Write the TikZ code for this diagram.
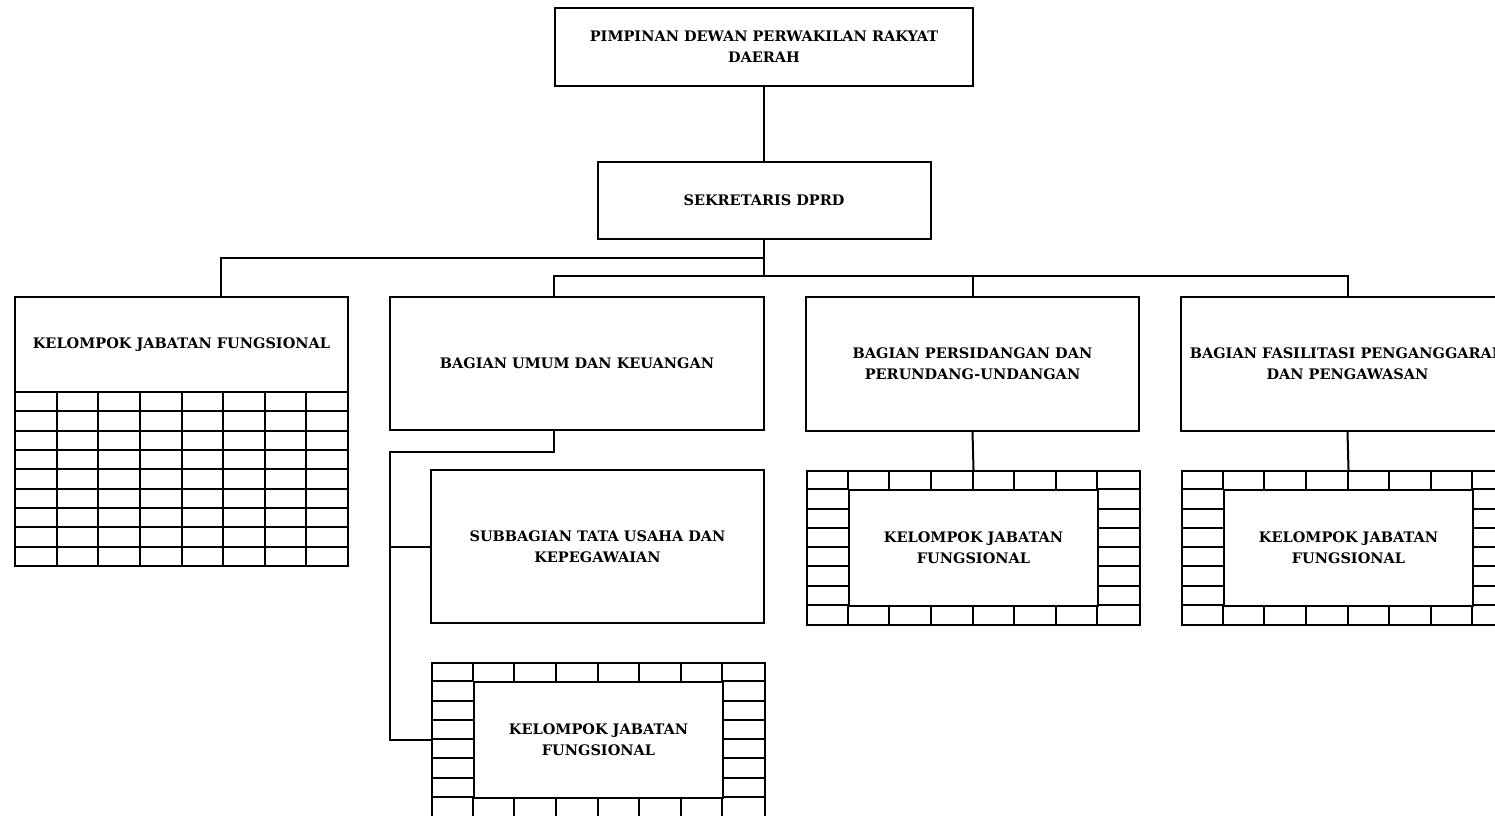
\documentclass[tikz,border=0pt]{standalone}
\usepackage{fontspec}
\setmainfont{DejaVu Serif}
\usetikzlibrary{positioning}

\tikzset{
  unit/.style={draw, line width=2pt, align=center, inner sep=0pt,
    font=\bfseries\fontsize{14.5}{21}\selectfont},
  link/.style={line width=2pt},
}

% cell frame round a label: name, left x, top y, label
\newcommand{\cellframe}[4]{%
  \begin{scope}[shift={(#2,#3)}]
    \node[draw, line width=2pt, minimum width=333pt, minimum height=154pt,
      inner sep=0pt, anchor=north west] (#1) at (0,0) {};
    \node[unit, minimum width=249.75pt, minimum height=115.5pt,
      anchor=north west] (#1-in) at (41.625,19.25) {#4};
    \foreach \cc in {1,...,7}
      \draw[link] (\cc*41.625,0) -- (\cc*41.625,19.25)
                  (\cc*41.625,134.75) -- (\cc*41.625,154);
    \foreach \rr in {1,...,7}
      \draw[link] (0,\rr*19.25) -- (41.625,\rr*19.25)
                  (291.375,\rr*19.25) -- (333,\rr*19.25);
  \end{scope}
}

\begin{document}
\begin{tikzpicture}[x=1pt, y=-1pt]
    \useasboundingbox (0,0) rectangle (1495,815);
    \clip (0,0) rectangle (1495,815);

    % Top of the chart
    \node[unit, minimum width=418pt, minimum height=78pt] (pimpinan) at (764,47)
      {PIMPINAN DEWAN PERWAKILAN RAKYAT\\DAERAH};
    \node[unit, minimum width=333pt, minimum height=77pt] (sekretaris) at (764,200.5)
      {SEKRETARIS DPRD};

    % Second row
    \node[unit, minimum width=333pt, minimum height=95pt] (kjf1) at (181.5,344.5)
      {KELOMPOK JABATAN FUNGSIONAL};
    \node[unit, minimum width=374pt, minimum height=133pt] (umum) at (577,363.5)
      {BAGIAN UMUM DAN KEUANGAN};
    \node[unit, minimum width=333pt, minimum height=134pt] (sidang) at (972.5,364)
      {BAGIAN PERSIDANGAN DAN\\PERUNDANG-UNDANGAN};
    \node[unit, minimum width=333pt, minimum height=134pt] (fasilitasi) at (1347.5,364)
      {BAGIAN FASILITASI PENGANGGARAN\\DAN PENGAWASAN};
    \node[unit, minimum width=333pt, minimum height=153pt] (subbag) at (597.5,546.5)
      {SUBBAGIAN TATA USAHA DAN\\KEPEGAWAIAN};

    % Grid below the first group
    \begin{scope}[shift={(15,392)}]
      \draw[link] (0,0) rectangle (333,174);
      \foreach \rr in {1,...,8}
        \draw[link] (0,\rr*19.333) -- (333,\rr*19.333);
      \foreach \cc in {1,...,7}
        \draw[link] (\cc*41.625,0) -- (\cc*41.625,174);
    \end{scope}

    % Framed groups
    \cellframe{kjf2}{806}{470}{KELOMPOK JABATAN\\FUNGSIONAL}
    \cellframe{kjf3}{1181}{470}{KELOMPOK JABATAN\\FUNGSIONAL}
    \cellframe{kjf4}{431}{662}{KELOMPOK JABATAN\\FUNGSIONAL}

    % Connectors
    \coordinate (busA) at (764,258);
    \coordinate (busB) at (764,277);
    \coordinate (spine) at (390,452);
    \draw[link] (pimpinan.south) -- (sekretaris.north);
    \draw[link] (sekretaris.south) -- (busB);
    \draw[link] (busA) -| ([xshift=207pt]kjf1.north west);
    \draw[link] ([xshift=165pt]umum.north west) -- ++(0,-20) -| (fasilitasi.north);
    \draw[link] (sidang.north) -- (sidang.north |- busB);
    \draw[link] (sidang.south) -- (kjf2.north);
    \draw[link] (fasilitasi.south) -- (kjf3.north);
    \draw[link] ([xshift=165pt]umum.south west) |- (spine) -- (spine |- kjf4.west) -- (kjf4.west);
    \draw[link] (subbag.west) -- (spine |- subbag.west);
\end{tikzpicture}
\end{document}
